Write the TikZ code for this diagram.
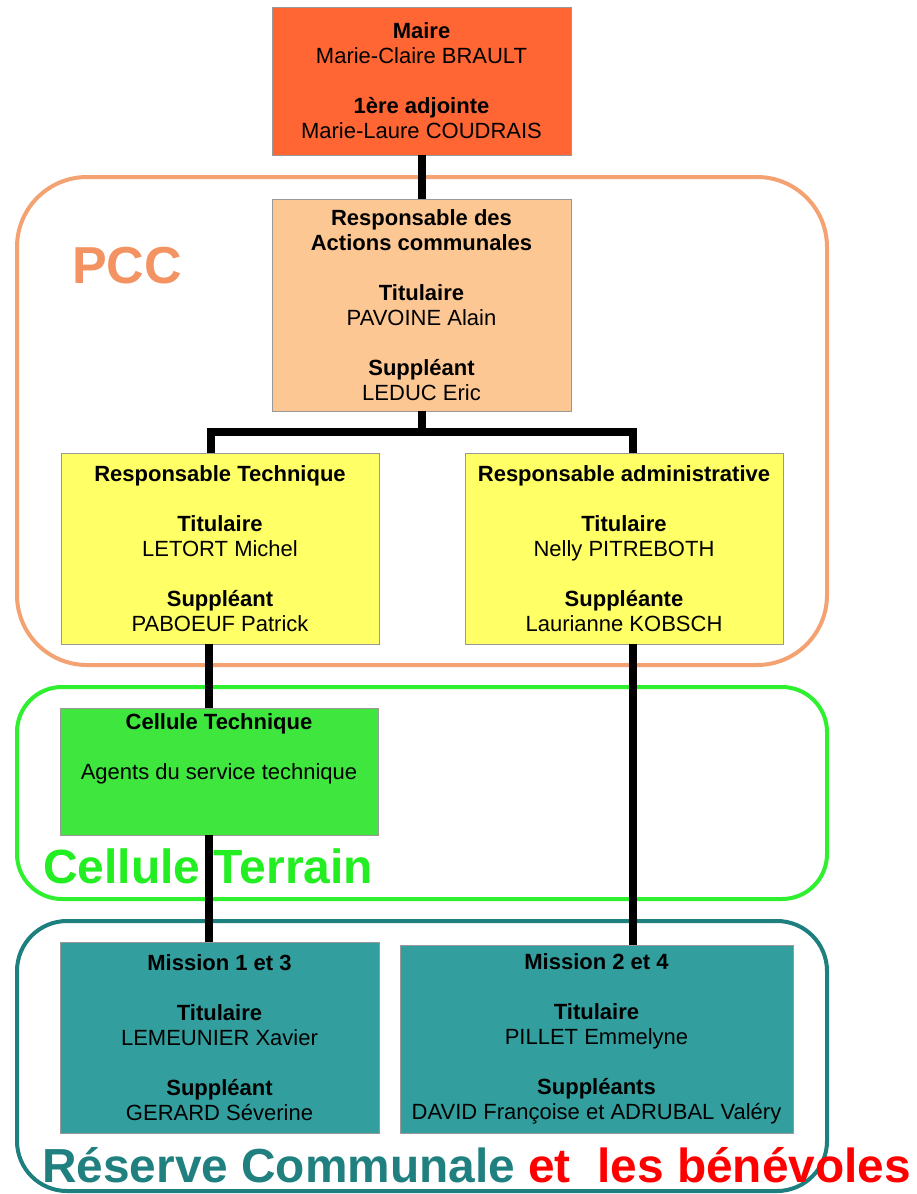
\documentclass[tikz,border=0pt]{standalone}
\usepackage{fontspec}
\setmainfont{Liberation Sans}
\usetikzlibrary{calc}
\definecolor{maireC}{HTML}{FF6633}
\definecolor{respC}{HTML}{FDC794}
\definecolor{yelC}{HTML}{FFFF66}
\definecolor{grnC}{HTML}{3EE63E}
\definecolor{tealC}{HTML}{339E9E}
\definecolor{pccO}{HTML}{F5A273}
\definecolor{pccT}{HTML}{F39362}
\definecolor{terrO}{HTML}{2EF02E}
\definecolor{terrT}{HTML}{22EE22}
\definecolor{resO}{HTML}{1E7F7F}
\definecolor{resT}{HTML}{1F807F}
\definecolor{redT}{HTML}{FF0000}
\begin{document}
\begin{tikzpicture}[x=1pt,y=-1pt,
  box/.style={draw=black!40, line width=0.8pt, align=center, inner sep=0pt,
    font=\fontsize{22}{25}\selectfont},
  conn/.style={line width=8pt, draw=black},
  zone/.style={line width=4pt},
  biglabel/.style={anchor=base west, inner sep=0pt}]
\useasboundingbox (0,0) rectangle (917,1194);
\fill[white] (0,0) rectangle (917,1194);
% zones
\draw[zone, draw=pccO, rounded corners=70pt] (17,177) rectangle (827,665);
\draw[zone, draw=terrO, rounded corners=45pt] (17,687) rectangle (827,899);
\draw[zone, draw=resO, rounded corners=50pt] (17,921) rectangle (827,1191);
% boxes
\node[box, fill=maireC, minimum width=299pt, minimum height=148pt] (maire) at (421.5,81)
  {\textbf{Maire}\\Marie-Claire BRAULT\\[25pt]\textbf{1ère adjointe}\\Marie-Laure COUDRAIS};
\node[box, fill=respC, minimum width=299pt, minimum height=212pt] (resp) at (421.5,305)
  {\textbf{Responsable des}\\\textbf{Actions communales}\\[25pt]\textbf{Titulaire}\\PAVOINE Alain\\[25pt]\textbf{Suppléant}\\LEDUC Eric};
\node[box, fill=yelC, minimum width=318pt, minimum height=191pt] (tech) at (220,548.5)
  {\textbf{Responsable Technique}\\[25pt]\textbf{Titulaire}\\LETORT Michel\\[25pt]\textbf{Suppléant}\\PABOEUF Patrick};
\node[box, fill=yelC, minimum width=318pt, minimum height=191pt] (admin) at (624,548.5)
  {\textbf{Responsable administrative}\\[25pt]\textbf{Titulaire}\\Nelly PITREBOTH\\[25pt]\textbf{Suppléante}\\Laurianne KOBSCH};
\node[box, fill=grnC, minimum width=318pt, minimum height=127pt] (cell) at (219,771.5)
  {\textbf{Cellule Technique}\\[25pt]Agents du service technique\\[25pt]\vphantom{A}};
\node[box, fill=tealC, minimum width=319pt, minimum height=191pt] (m13) at (219.5,1037.5)
  {\textbf{Mission 1 et 3}\\[25pt]\textbf{Titulaire}\\LEMEUNIER Xavier\\[25pt]\textbf{Suppléant}\\GERARD Séverine};
\node[box, fill=tealC, minimum width=393pt, minimum height=188pt] (m24) at (596.5,1039)
  {\textbf{Mission 2 et 4}\\[25pt]\textbf{Titulaire}\\PILLET Emmelyne\\[25pt]\textbf{Suppléants}\\DAVID Françoise et ADRUBAL Valéry};
% connectors
\coordinate (jl) at (211,432);
\coordinate (jr) at (633,432);
\coordinate (cl) at (209,0);
\draw[conn] (maire.south) -- (resp.north);
\draw[conn] (resp.south) -- (resp.south |- jl);
\draw[conn] (jl |- tech.north) -- (jl) -- (jr) -- (jr |- admin.north);
\draw[conn] (tech.south -| cl) -- (cell.north -| cl);
\draw[conn] (cell.south -| cl) -- (m13.north -| cl);
\draw[conn] (admin.south -| jr) -- (m24.north -| jr);
% labels
\node[biglabel, text=pccT, font=\fontsize{52}{52}\selectfont\bfseries] (pcclabel) at (72,283) {PCC};
\node[biglabel, text=terrT, font=\fontsize{48}{48}\selectfont\bfseries] (terrlabel) at (43,883) {Cellule Terrain};
\node[biglabel, font=\fontsize{47.8}{47.8}\selectfont\bfseries] (reslabel) at (42,1182)
  {\textcolor{resT}{Réserve Communale} \textcolor{redT}{et\ \ les bénévoles}};
\end{tikzpicture}
\end{document}
